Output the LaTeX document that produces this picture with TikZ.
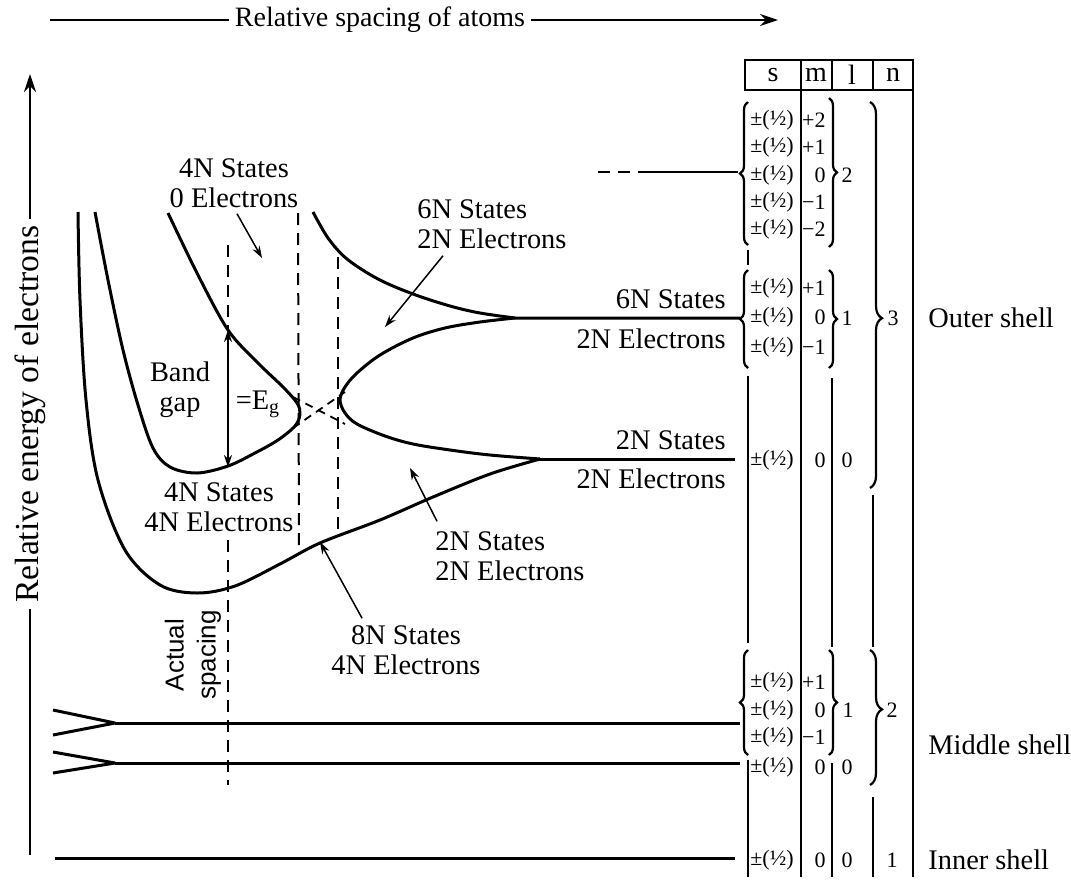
\documentclass[tikz,border=0pt]{standalone}
\usepackage{fontspec}
\setmainfont{Liberation Serif}
\setsansfont{Liberation Sans}
\usetikzlibrary{arrows.meta,decorations.pathreplacing}

\begin{document}
\begin{tikzpicture}[x=0.5pt,y=-0.5pt,
  band/.style={line width=1.5pt,line join=round},
  guide/.style={line width=1pt,dash pattern=on 6pt off 4pt},
  ptr/.style={-{Stealth[length=6pt,width=4pt]},line width=0.75pt},
  rule/.style={line width=1.1pt},
  curly/.style={decorate,decoration={brace,amplitude=4pt},line width=1.1pt},
  lbl/.style={font=\fontsize{14.2}{14.8}\selectfont,inner sep=1pt,align=center},
  entry/.style={font=\fontsize{11}{12}\selectfont,inner sep=0pt},
  head/.style={font=\fontsize{14}{15}\selectfont,inner sep=0pt}]
\useasboundingbox (0,0) rectangle (1071,879);

% axes
\node[lbl,inner sep=3pt,font=\fontsize{14}{15}\selectfont] (xlab) at (380,20) {Relative spacing of atoms};
\coordinate (xstart) at (50,20);
\coordinate (xend) at (778,20);
\draw[rule] (xstart) -- (xlab.west);
\draw[rule,-{Stealth[length=9pt,width=6pt]}] (xlab.east) -- (xend);
\node[lbl,inner sep=3pt,rotate=90,font=\fontsize{16.8}{17}\selectfont] (ylab) at (30,414) {Relative energy of electrons};
\coordinate (ystart) at (30,855);
\coordinate (yend) at (30,74);
\draw[rule] (ystart) -- (ylab.west);
\draw[rule,-{Stealth[length=9pt,width=6pt]}] (ylab.east) -- (yend);

% outer shell bands
\draw[band] plot[smooth,tension=0.55] coordinates {(78,212) (80,300) (86,400) (98,480) (125,550) (160,585) (197,593) (235,586) (280,564) (320,543) (380,520) (433,497) (490,474) (540,459)};
\draw[band] plot[smooth,tension=0.55] coordinates {(168,213) (198,275) (228,330) (257,362) (283,387) (297,403) (300,414) (295,426) (278,440) (255,453) (228,466) (197,473) (170,467) (153,448) (138,405) (123,350) (108,280) (95,212)};
\draw[band] plot[smooth,tension=0.55] coordinates {(313,212) (328,238) (347,259) (378,279) (413,294) (450,306) (480,313) (515,318)} -- (740,318);
\draw[band] plot[smooth,tension=0.55] coordinates {(515,318) (480,322) (445,328) (413,338) (380,355) (357,373) (345,387) (340,400) (345,413) (357,424) (385,436) (413,444) (450,450) (490,455) (540,459)};
\draw[band] (530,459) -- (735,459);
\draw[line width=0.9pt,dash pattern=on 4pt off 3pt] (293,397) -- (345,424);
\draw[line width=0.9pt,dash pattern=on 4pt off 3pt] (293,428) -- (345,392);

% spacing guides
\coordinate (gaptop) at (228,330);
\coordinate (gapbot) at (228,467);
\draw[guide] (228,245) -- (gaptop);
\draw[guide] (228,540) -- (228,785);
\draw[guide] (298,213) -- (299,547);
\draw[guide] (338,257) -- (338,530);
\draw[{Stealth[length=6pt,width=4pt]}-{Stealth[length=6pt,width=4pt]},line width=0.7pt] (gaptop) -- (gapbot);

% band labels
\node[lbl] (cb) at (234,183) {4N States\\0 Electrons};
\coordinate (cbtip) at (262,258);
\draw[ptr] (cb.south) ++(3,4) -- (cbtip);
\node[lbl,anchor=west,align=left] (up6) at (415,224) {6N States\\2N Electrons};
\coordinate (up6tip) at (385,327);
\draw[ptr] (up6.south west) ++(28,5) -- (up6tip);
\node[lbl,anchor=east] (r6s) at (728,299) {6N States};
\node[lbl,anchor=east] (r6e) at (728,339) {2N Electrons};
\node[lbl,anchor=east] (r2s) at (728,440) {2N States};
\node[lbl,anchor=east] (r2e) at (728,479) {2N Electrons};
\node[lbl] (bandgap) at (180,390) {Band\\gap};
\node[lbl] (eg) at (258,404) {=E\textsubscript{g}};
\node[lbl] (vb) at (219,507) {4N States\\4N Electrons};
\node[lbl,anchor=west,align=left] (mid2) at (433,556) {2N States\\2N Electrons};
\coordinate (mid2tip) at (410,468);
\draw[ptr] (mid2.north west) ++(4,-8) -- (mid2tip);
\node[lbl] (low8) at (406,650) {8N States\\4N Electrons};
\coordinate (low8tip) at (320,542);
\draw[ptr] (low8.north west) ++(33,-5) -- (low8tip);
\node[rotate=90,align=center,inner sep=0pt,font=\sffamily\fontsize{13}{16}\selectfont] (actual) at (193,655) {Actual\\spacing};

% middle and inner shell levels
\draw[band] (53,710) -- (115,723) -- (53,735);
\draw[band] (115,723) -- (740,723);
\draw[band] (53,752) -- (115,763) -- (53,773);
\draw[band] (115,763) -- (740,763);
\draw[band] (55,858) -- (735,858);
\draw[guide] (598,172) -- (642,172);
\draw[rule,line width=1.3pt] (642,172) -- (738,172);

% quantum number table
\draw[rule] (745,60) rectangle (913,90);
\foreach \x in {801,832,873} \draw[rule] (\x,60) -- (\x,90);
\node[head] (hs) at (773,75) {s};
\node[head] (hm) at (816,75) {m};
\node[head] (hl) at (852,75) {l};
\node[head] (hn) at (893,75) {n};
\draw[rule] (801,90) -- (801,877);
\draw[rule] (913,90) -- (913,877);
% s column
\draw[curly] (748,245) -- (748,102);
\draw[rule] (748,250) -- (748,265);
\draw[curly] (748,368) -- (748,270);
\draw[rule] (748,376) -- (748,643);
\draw[curly] (748,755) -- (748,650);
\draw[rule] (748,760) -- (748,877);
% m column
\draw[curly] (829,98) -- (829,247);
\draw[curly] (829,270) -- (829,368);
\draw[rule] (832,378) -- (832,647);
\draw[curly] (829,650) -- (829,755);
\draw[rule] (832,763) -- (832,877);
% n column
\draw[curly,decoration={amplitude=6pt,aspect=0.56}] (870,102) -- (870,488);
\draw[rule] (873,495) -- (873,647);
\draw[curly,decoration={amplitude=6pt,aspect=0.44}] (870,650) -- (870,785);
\draw[rule] (873,797) -- (873,877);

% entries
\foreach \y/\m [count=\i] in {120/+2,147/+1,175/0,202/−1,229/−2} {
  \node[entry] (ds\i) at (772,\y) {±(½)};
  \node[entry,anchor=east] (dm\i) at (826,\y) {\m};
}
\node[entry] (dl) at (847,175) {2};
\foreach \y/\m [count=\i] in {288/+1,317/0,347/−1} {
  \node[entry] (ps\i) at (772,\y) {±(½)};
  \node[entry,anchor=east] (pm\i) at (826,\y) {\m};
}
\node[entry] (pl) at (847,318) {1};
\node[entry] (n3) at (893,318) {3};
\node[entry] (s3s) at (772,460) {±(½)};
\node[entry,anchor=east] (s3m) at (826,460) {0};
\node[entry] (s3l) at (847,460) {0};
\foreach \y/\m [count=\i] in {682/+1,710/0,737/−1} {
  \node[entry] (qs\i) at (772,\y) {±(½)};
  \node[entry,anchor=east] (qm\i) at (826,\y) {\m};
}
\node[entry] (ql) at (848,710) {1};
\node[entry] (n2) at (892,710) {2};
\node[entry] (s2s) at (772,767) {±(½)};
\node[entry,anchor=east] (s2m) at (826,767) {0};
\node[entry] (s2l) at (847,767) {0};
\node[entry] (s1s) at (772,860) {±(½)};
\node[entry,anchor=east] (s1m) at (826,860) {0};
\node[entry] (s1l) at (847,860) {0};
\node[entry] (n1) at (892,860) {1};

% shell names
\node[lbl,anchor=west] (outer) at (926,318) {Outer shell};
\node[lbl,anchor=west] (middle) at (926,745) {Middle shell};
\node[lbl,anchor=west] (inner) at (926,860) {Inner shell};
\end{tikzpicture}
\end{document}
